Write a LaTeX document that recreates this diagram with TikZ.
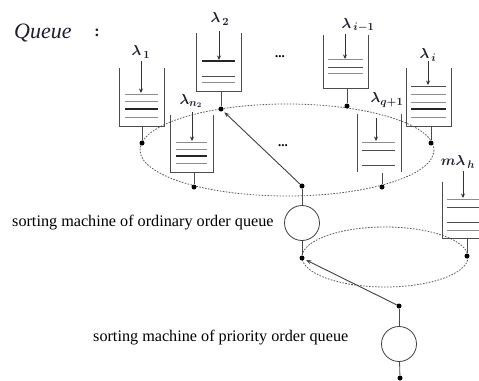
\documentclass[tikz,border=0pt]{standalone}
\usepackage{fontspec}
\setmainfont{Liberation Serif}
\usetikzlibrary{arrows.meta}
\definecolor{ink}{RGB}{28,30,48}
\begin{document}
\begin{tikzpicture}[x=1pt,y=-1pt,
  wall/.style={draw=black!70, line width=0.9pt},
  thinl/.style={draw=black!45, line width=0.9pt},
  medl/.style={draw=black!70, line width=1.0pt},
  thickl/.style={draw=black!85, line width=1.5pt},
  feed/.style={draw=black!80, line width=0.7pt, -{Stealth[length=4.5pt,width=4pt]}},
  stem/.style={draw=black!70, line width=0.8pt},
  dotn/.style={circle, fill=black, inner sep=0pt, minimum size=5pt},
  ring/.style={circle, draw=black!75, line width=0.8pt, minimum size=35pt, inner sep=0pt},
  ell/.style={draw=black!65, line width=0.8pt, dash pattern=on 1.6pt off 1.4pt},
  link/.style={draw=black!75, line width=0.9pt, -{Stealth[length=5pt,width=4pt]}, shorten >=2pt},
  lab/.style={font=\boldmath\fontsize{15}{15}\selectfont, text=ink, inner sep=0pt},
  txt/.style={font=\fontsize{16.2}{16.2}\selectfont, text=black, inner sep=0pt, anchor=west},
  dots/.style={font=\bfseries\fontsize{13}{13}\selectfont, inner sep=0pt}
]
\useasboundingbox (0,0) rectangle (479,380);

% title
\node[font=\itshape\fontsize{22}{22}\selectfont, text=ink, anchor=west, inner sep=0pt] (qt) at (14,33) {Queue};
\node[font=\bfseries\fontsize{16}{16}\selectfont, text=ink, inner sep=0pt] (qc) at (97,33) {:};

% ellipses
\draw[ell] (287,150) ellipse [x radius=147, y radius=46];
\draw[ell] (385,257) ellipse [x radius=83, y radius=30];

% queue 1
\draw[wall] (119,68) |- (164,126) -- (164,68);
\draw[thinl] (125,94) -- (158,94);
\draw[thinl] (125,101) -- (158,101);
\draw[thickl] (125,109) -- (158,109);
\draw[thinl] (125,117) -- (158,117);
\node[lab] (l1) at (141,52) {$\lambda_{\,1}$};
\coordinate (a1s) at (141,61); \coordinate (a1e) at (141,93);
\draw[feed] (a1s) -- (a1e);
\coordinate (b1) at (142,126);
\node[dotn] (d1) at (142,143) {};
\draw[stem] (b1) -- (d1);

% queue 2
\draw[wall] (196,33) |- (241,91) -- (241,33);
\draw[thickl] (202,61) -- (235,61);
\draw[medl] (202,76) -- (235,76);
\draw[thinl] (202,82) -- (235,82);
\node[lab] (l2) at (220,19) {$\lambda_{\,2}$};
\coordinate (a2s) at (219,31); \coordinate (a2e) at (219,60);
\draw[feed] (a2s) -- (a2e);
\coordinate (b2) at (221,91);
\node[dotn] (d2) at (221,109) {};
\draw[stem] (b2) -- (d2);

% queue n2
\draw[wall] (170,115) |- (213,172) -- (213,115);
\draw[thinl] (176,142) -- (207,142);
\draw[thinl] (176,149) -- (207,149);
\draw[thickl] (176,156) -- (207,156);
\draw[thinl] (176,163) -- (207,163);
\node[lab] (l3) at (191,101) {$\lambda_{n_2}$};
\coordinate (a3s) at (192,112); \coordinate (a3e) at (192,141);
\draw[feed] (a3s) -- (a3e);
\coordinate (b3) at (194,172);
\node[dotn] (d3) at (194,187) {};
\draw[stem] (b3) -- (d3);

% queue i-1
\draw[wall] (323,35) |- (368,88) -- (368,35);
\draw[thinl] (328,59) -- (363,59);
\draw[medl] (328,67) -- (363,67);
\draw[thinl] (328,73) -- (363,73);
\node[lab] (l4) at (358,25) {$\lambda_{\,i-1}$};
\coordinate (a4s) at (345,34); \coordinate (a4e) at (345,59);
\draw[feed] (a4s) -- (a4e);
\coordinate (b4) at (347,88);
\node[dotn] (d4) at (347,106) {};
\draw[stem] (b4) -- (d4);

% queue i
\draw[wall] (406,68) |- (451,126) -- (451,68);
\draw[medl] (411,86) -- (446,86);
\draw[thinl] (411,94) -- (446,94);
\draw[thinl] (411,102) -- (446,102);
\draw[thickl] (411,109) -- (446,109);
\draw[thinl] (411,117) -- (446,117);
\node[lab] (l5) at (428,55) {$\lambda_{\,i}$};
\coordinate (a5s) at (428,61); \coordinate (a5e) at (428,85);
\draw[feed] (a5s) -- (a5e);
\coordinate (b5) at (431,126);
\node[dotn] (d5) at (431,143) {};
\draw[stem] (b5) -- (d5);

% queue q+1
\draw[wall] (357,114) -- (357,172);
\draw[wall] (401,114) -- (401,172);
\draw[thinl] (362,142) -- (395,142);
\draw[medl] (362,150) -- (395,150);
\draw[medl] (362,165) -- (395,165);
\node[lab] (l6) at (387,100) {$\lambda_{q+1}$};
\coordinate (a6s) at (376,118); \coordinate (a6e) at (376,141);
\draw[feed] (a6s) -- (a6e);
\coordinate (b6) at (382,173);
\node[dotn] (d6) at (382,187) {};
\draw[stem] (b6) -- (d6);

% dots
\node[dots] (dt1) at (280,57) {...};
\node[dots] (dt2) at (283,146) {...};

% queue h
\draw[wall] (442,182) |- (480,238);
\draw[thinl] (447,199) -- (480,199);
\draw[medl] (447,207) -- (480,207);
\draw[medl] (447,222) -- (480,222);
\draw[thinl] (447,230) -- (480,230);
\node[lab] (l7) at (458,162) {$m\lambda_{\,h}$};
\coordinate (a7s) at (463,171); \coordinate (a7e) at (463,198);
\draw[feed] (a7s) -- (a7e);
\coordinate (b7) at (467,238);
\node[dotn] (d7) at (467,256) {};
\draw[stem] (b7) -- (d7);

% sorting machine 1
\node[dotn] (o1) at (302,186) {};
\node[ring] (m1) at (302,223) {};
\node[dotn] (e2) at (302,258) {};
\draw[link] (o1) -- (d2);
\draw[stem] (o1) -- (m1);
\draw[stem] (m1) -- (e2);

% sorting machine 2
\node[dotn] (o2) at (399,306) {};
\node[ring] (m2) at (399,344) {};
\node[dotn] (o3) at (400,378) {};
\draw[link] (o2) -- (e2);
\draw[stem] (o2) -- (m2);
\draw[stem] (m2) -- (o3);

% labels
\node[txt] (t1) at (12,223) {sorting machine of ordinary order queue};
\node[txt] (t2) at (93,338) {sorting machine of priority order queue};
\end{tikzpicture}
\end{document}
